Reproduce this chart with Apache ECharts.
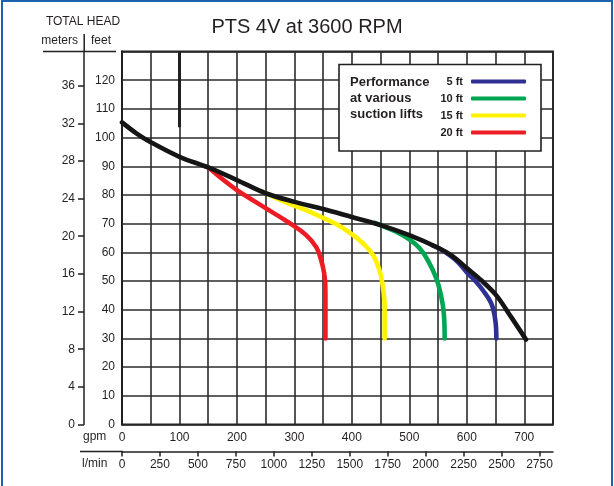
<!DOCTYPE html>
<html><head><meta charset="utf-8">
<script src="https://cdn.jsdelivr.net/npm/echarts@6/dist/echarts.min.js"></script>
<style>html,body{margin:0;padding:0;background:#fff}#c{width:614px;height:486px}</style>
</head><body><div id="c"></div>
<script>
// ---- data ----
const chartTitle = 'PTS 4V at 3600 RPM';
const gpmLabels = [0, 100, 200, 300, 400, 500, 600, 700];
const lpmLabels = [0, 250, 500, 750, 1000, 1250, 1500, 1750, 2000, 2250, 2500, 2750];
const feetLabels = [0, 10, 20, 30, 40, 50, 60, 70, 80, 90, 100, 110, 120];
const meterLabels = [0, 4, 8, 12, 16, 20, 24, 28, 32, 36];
const liftNames = ['5 ft', '10 ft', '15 ft', '20 ft'];
// [gpm, feet]
const maxCurve = [[0,105.3],[25,101.5],[50,98.4],[100,93.3],[150,89.6],[200,85.2],[250,80.6],[300,77.6],[350,75.1],[400,72.3],[450,69.5],[500,66],[550,61.6],[575,58.7],[600,54.5],[625,50.3],[651,45.1],[677,37.5],[703,29.6]];
const lift5 = [[540,62.4],[552,61.3],[570,59],[585,56.5],[602,52.6],[615,50],[628,46.8],[642.6,42.2],[649.6,36.4],[651.4,30]];
const lift10 = [[440,70.3],[450,69.5],[477,67.2],[500,64.5],[518,61.4],[532,57.3],[547,50.9],[555.6,44.5],[560,38.7],[561.5,30]];
const lift15 = [[245,81.1],[250,80.6],[275,78.3],[300,76.3],[325,74.3],[350,72],[375,69.6],[400,66.3],[420,63],[437,59],[448,53.8],[454,48],[457,41],[457,30]];
const lift20 = [[145,90],[150,89.6],[175,85.5],[200,81.7],[250,75.4],[290,70.4],[320,66.1],[338,61.8],[347,57],[351.5,53],[353.5,49.5],[354,45],[354,30]];
const accentLine = [[100,130],[100,103.6]];
const GPM_MAX = 750, FT_MAX = 130, LPM_PER_GPM = 3.785, M_PER_FT = 0.3048;

// ---- styles ----
const ink = '#231f20';
const font = 'Liberation Sans';
const liftColors = ['#2e3192', '#00a651', '#fff200', '#ed1c24'];
const gridLine = {color: '#2b2b2b', width: 1.6};

const chart = echarts.init(document.getElementById('c'), null, {renderer: 'canvas'});
const liftData = [lift5, lift10, lift15, lift20];
const series = liftData.map((d, i) => ({
  name: liftNames[i], type: 'line', data: d, xAxisIndex: 0, yAxisIndex: 0,
  smooth: 0.4, showSymbol: false, symbol: 'none', z: 2,
  itemStyle: {color: liftColors[i], borderWidth: 0},
  lineStyle: {color: liftColors[i], width: 4.6, cap: 'round', join: 'round'}
}));
series.push({
  name: 'max', type: 'line', data: maxCurve, xAxisIndex: 0, yAxisIndex: 0,
  smooth: 0.35, showSymbol: false, symbol: 'none', z: 3,
  itemStyle: {color: '#151515'},
  lineStyle: {color: '#151515', width: 4.6, cap: 'round', join: 'round'},
  markLine: {silent: true, symbol: 'none', label: {show: false},
    lineStyle: {color: ink, width: 3, type: 'solid'},
    data: [[{coord: accentLine[0]}, {coord: accentLine[1]}]]}
});

const labelStyle = {fontSize: 12, color: ink, fontFamily: font};

chart.setOption({
  animation: false,
  backgroundColor: '#fff',
  title: {text: chartTitle, left: 'center', top: 17, padding: 0,
    textStyle: {fontSize: 20, fontWeight: 'normal', color: ink, fontFamily: font}},
  grid: {left: 122, right: 61, top: 51.5, bottom: 61.5, show: true,
    borderColor: ink, borderWidth: 2, backgroundColor: 'transparent', outerBoundsMode: 'none'},
  legend: {
    data: liftNames, orient: 'vertical', align: 'right', left: 433, top: 76,
    itemWidth: 55, itemHeight: 4, itemGap: 6, icon: 'roundRect', padding: 0,
    selectedMode: false, z: 10,
    itemStyle: {borderWidth: 0},
    formatter: n => '{a|' + n + '}',
    textStyle: {rich: {a: {width: 30, align: 'right', fontSize: 11, fontWeight: 'bold',
      lineHeight: 14, padding: [0, 3, 0, 0], color: ink, fontFamily: font}}}
  },
  xAxis: [
    {type: 'value', min: 0, max: GPM_MAX, interval: 50, position: 'bottom',
      axisLine: {show: false}, axisTick: {show: false},
      splitLine: {show: true, lineStyle: gridLine},
      axisLabel: Object.assign({customValues: gpmLabels, margin: 7,
        formatter: v => gpmLabels.includes(v) ? String(v) : ''}, labelStyle)},
    {type: 'value', min: 0, max: GPM_MAX * LPM_PER_GPM, interval: 250, position: 'bottom', offset: 27,
      axisLine: {show: true, onZero: false, lineStyle: {color: ink, width: 1.5}},
      axisTick: {show: true, length: 5, customValues: lpmLabels, lineStyle: {color: ink, width: 1.5}},
      splitLine: {show: false},
      axisLabel: Object.assign({customValues: lpmLabels, margin: 7,
        formatter: v => lpmLabels.includes(v) ? String(v) : ''}, labelStyle)}
  ],
  yAxis: [
    {type: 'value', min: 0, max: FT_MAX, interval: 10, position: 'left',
      axisLine: {show: true, onZero: false, lineStyle: {color: ink, width: 2}},
      axisTick: {show: false},
      splitLine: {show: true, lineStyle: gridLine},
      axisLabel: Object.assign({customValues: feetLabels, margin: 7,
        formatter: v => feetLabels.includes(v) ? String(v) : ''}, labelStyle)},
    {type: 'value', min: 0, max: FT_MAX * M_PER_FT, position: 'left', offset: 38,
      axisLine: {show: true, onZero: false, lineStyle: {color: ink, width: 1.5}},
      axisTick: {show: true, length: 6, customValues: meterLabels, lineStyle: {color: ink, width: 1.5}},
      splitLine: {show: false},
      axisLabel: Object.assign({customValues: meterLabels, margin: 9,
        formatter: v => meterLabels.includes(v) ? String(v) : ''}, labelStyle)}
  ],
  graphic: [
    {type: 'rect', z: 100, silent: true, shape: {x: 2, y: 1, width: 610, height: 520},
      style: {fill: 'none', stroke: '#1d62ad', lineWidth: 2}},
    {type: 'rect', z: 3, shape: {x: 339, y: 64.5, width: 202, height: 86.5},
      style: {fill: '#fff', stroke: ink, lineWidth: 1.6}},
    {type: 'text', z: 11, x: 350, y: 74,
      style: {text: 'Performance\nat various\nsuction lifts', fontSize: 13, fontWeight: 'bold',
        lineHeight: 16, fill: ink, fontFamily: font}},
    {type: 'text', z: 11, x: 83, y: 22,
      style: {text: 'TOTAL HEAD', fontSize: 12, fill: ink, fontFamily: font, align: 'center', verticalAlign: 'middle'}},
    {type: 'text', z: 11, x: 78, y: 41,
      style: {text: 'meters', fontSize: 12, fill: ink, fontFamily: font, align: 'right', verticalAlign: 'middle'}},
    {type: 'text', z: 11, x: 91, y: 41,
      style: {text: 'feet', fontSize: 12, fill: ink, fontFamily: font, align: 'left', verticalAlign: 'middle'}},
    {type: 'line', z: 11, shape: {x1: 43, y1: 51.5, x2: 116, y2: 51.5}, style: {stroke: ink, lineWidth: 1.5}},
    {type: 'line', z: 11, shape: {x1: 84.2, y1: 34, x2: 84.2, y2: 52}, style: {stroke: ink, lineWidth: 1.5}},
    {type: 'line', z: 11, shape: {x1: 80, y1: 451.5, x2: 123, y2: 451.5}, style: {stroke: ink, lineWidth: 1.5}},
    {type: 'text', z: 11, x: 83, y: 437,
      style: {text: 'gpm', fontSize: 12, fill: ink, fontFamily: font, align: 'left', verticalAlign: 'middle'}},
    {type: 'text', z: 11, x: 82, y: 464,
      style: {text: 'l/min', fontSize: 12, fill: ink, fontFamily: font, align: 'left', verticalAlign: 'middle'}}
  ],
  series: series
});
</script>
</body></html>
